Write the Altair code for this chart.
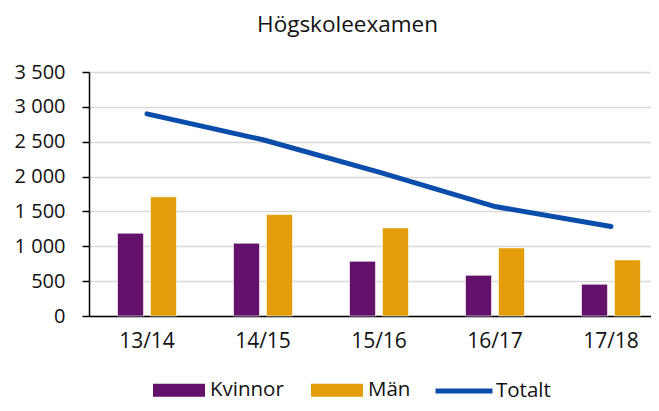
import altair as alt
import pandas as pd

years = ["13/14", "14/15", "15/16", "16/17", "17/18"]
kvinnor = [1188, 1044, 785, 584, 455]
man = [1709, 1455, 1264, 977, 804]
totalt = [2900, 2528, 2065, 1570, 1283]
series = ["Kvinnor", "Män"]
bar_colors = ["#63116A", "#E39D0B"]
line_name = "Totalt"
line_color = "#0B4DAB"
y_ticks = [0, 500, 1000, 1500, 2000, 2500, 3000, 3500]

rows = []
for i, yr in enumerate(years):
    rows.append({"year": yr, "serie": "Kvinnor", "value": kvinnor[i]})
    rows.append({"year": yr, "serie": "Män", "value": man[i]})
df_bars = pd.DataFrame(rows)
df_line = pd.DataFrame({"year": years, "serie": [line_name] * len(years), "value": totalt})

FONT = "Open Sans"
TXT = "#111111"

x_enc = alt.X(
    "year:N",
    sort=years,
    scale=alt.Scale(paddingInner=0, paddingOuter=0, range=[0, 580]),
    axis=alt.Axis(
        title=None, labelAngle=0, ticks=False, labelFontSize=21, labelFont=FONT,
        labelColor=TXT, domainColor="#000000", domainWidth=1.5, labelPadding=14, grid=False,
    ),
)
y_enc = alt.Y(
    "value:Q",
    scale=alt.Scale(domain=[0, 3500], nice=False),
    axis=alt.Axis(
        title=None, values=y_ticks, labelFontSize=20, labelFont=FONT, labelColor=TXT,
        labelExpr="replace(format(datum.value, ','), ',', ' ')", labelOverlap=False,
        tickSize=7, tickColor="#000000", tickWidth=1.5, domainColor="#000000", domainWidth=1.5,
        labelPadding=17, grid=True, gridColor="#D9D9D9", gridWidth=1.5,
    ),
)

bars = alt.Chart(df_bars).mark_bar(stroke="#ffffff", strokeWidth=0.6).encode(
    x=x_enc,
    xOffset=alt.XOffset("serie:N", sort=series,
                        scale=alt.Scale(paddingInner=0.212, paddingOuter=0.864)),
    y=y_enc,
    color=alt.Color(
        "serie:N",
        scale=alt.Scale(domain=series, range=bar_colors),
        legend=alt.Legend(
            title=None, orient="none", direction="horizontal", legendX=64, legendY=292,
            symbolType="M-1,-0.25H1V0.25H-1Z", symbolSize=2704, symbolStrokeWidth=0,
            symbolOpacity=1, labelFontSize=20.5, labelFont=FONT, labelColor=TXT,
            labelOffset=5, columnPadding=27, padding=0,
        ),
    ),
)

line = alt.Chart(df_line).mark_line(strokeWidth=5, strokeCap="round").encode(
    x=x_enc,
    y=y_enc,
    stroke=alt.Stroke(
        "serie:N",
        scale=alt.Scale(domain=[line_name], range=[line_color]),
        legend=alt.Legend(
            title=None, orient="none", direction="horizontal", legendX=344, legendY=288,
            symbolType="stroke", symbolSize=3249, symbolStrokeWidth=5,
            labelFontSize=20.5, labelFont=FONT, labelColor=TXT, labelOffset=1, padding=0,
        ),
    ),
)

chart = alt.layer(bars, line).properties(
    width=562,
    height=244,
    title=alt.TitleParams(
        "Högskoleexamen", fontSize=22.5, font=FONT, fontWeight="normal", color=TXT,
        anchor="middle", dx=-22.5, offset=8, baseline="alphabetic",
    ),
    autosize=alt.AutoSizeParams(type="none"),
    padding={"left": 81, "top": 64, "right": 0, "bottom": 87},
).configure_view(stroke=None)

chart.save("out.html", embed_options={"renderer": "svg", "actions": False})
